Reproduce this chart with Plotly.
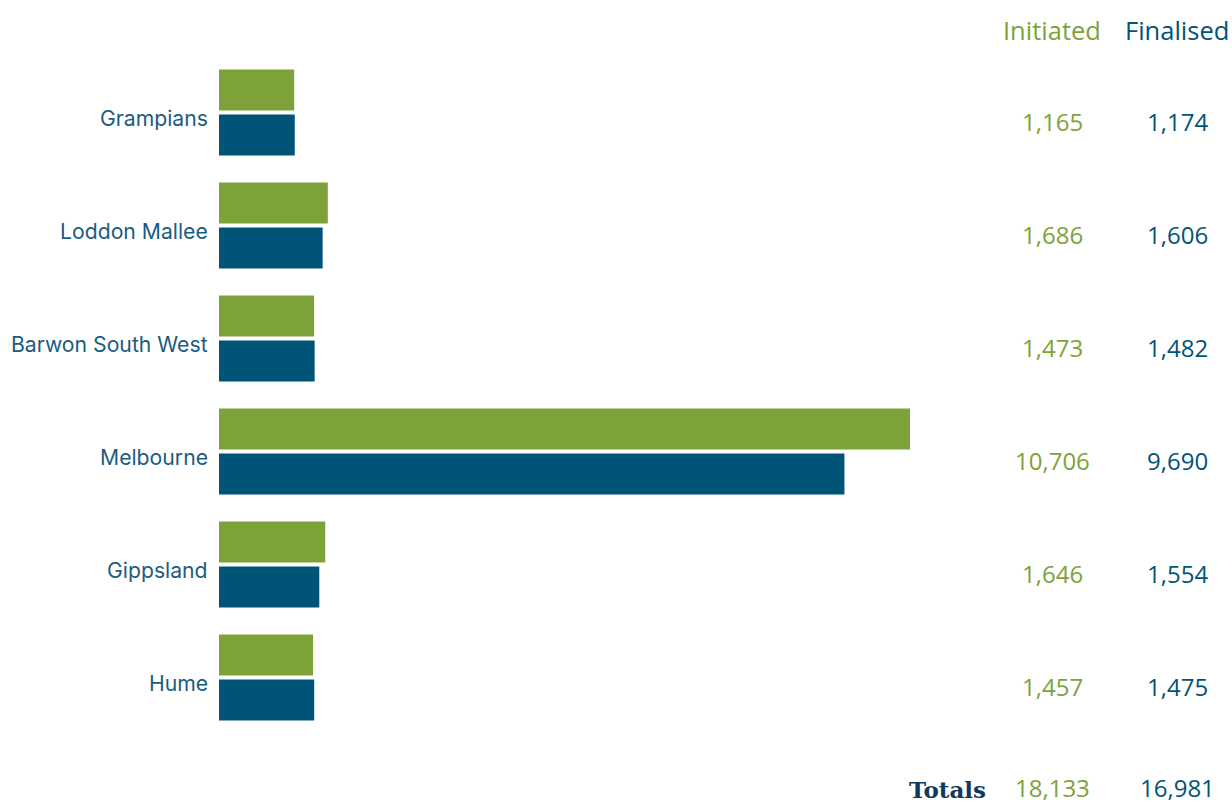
import plotly.graph_objects as go

regions = ["Grampians", "Loddon Mallee", "Barwon South West", "Melbourne", "Gippsland", "Hume"]
initiated = [1165, 1686, 1473, 10706, 1646, 1457]
finalised = [1174, 1606, 1482, 9690, 1554, 1475]
total_initiated = 18133
total_finalised = 16981
headers = ["Initiated", "Finalised"]

GREEN = "#7ea23a"
BLUE = "#005478"
LABEL = "#1b5c80"
NAVY = "#0e3a5e"

W, H = 1232, 803
ml, mr, mt, mb = 219, 0, 56, 68.5
plot_w = W - ml - mr
plot_h = H - mt - mb
x_max = plot_w / (691.0 / 10706.0)

def px_to_paper_x(px):
    return (px - ml) / plot_w

def px_to_paper_y(py):
    return (H - mb - py) / plot_h

fig = go.Figure()
fig.add_trace(go.Bar(y=regions, x=initiated, orientation="h", marker=dict(color=GREEN, line=dict(width=0)), name="Initiated"))
fig.add_trace(go.Bar(y=regions, x=finalised, orientation="h", marker=dict(color=BLUE, line=dict(width=0)), name="Finalised"))

annotations = []
col_x = [px_to_paper_x(1052), px_to_paper_x(1177)]
col_colors = [GREEN, BLUE]
for i, h in enumerate(headers):
    annotations.append(dict(text=h, xref="paper", yref="paper", x=col_x[i], y=px_to_paper_y(30),
                            xanchor="center", yanchor="middle", showarrow=False,
                            font=dict(family="Open Sans", size=25.5, color=col_colors[i])))
for r in regions:
    annotations.append(dict(text=r, xref="paper", yref="y", x=0, y=r, xshift=-9, yshift=-5,
                            xanchor="right", yanchor="middle", showarrow=False,
                            font=dict(family="Inter", size=21.2, color=LABEL)))
for r, a, b in zip(regions, initiated, finalised):
    for j, v in enumerate([a, b]):
        annotations.append(dict(text=f"{v:,}", xref="paper", yref="y", x=col_x[j], y=r,
                                xanchor="center", yanchor="middle", yshift=-9, showarrow=False,
                                font=dict(family="Open Sans", size=24, color=col_colors[j])))
annotations.append(dict(text="<b>Totals</b>", xref="paper", yref="paper", x=px_to_paper_x(988), y=px_to_paper_y(790),
                        xanchor="right", yanchor="middle", showarrow=False,
                        font=dict(family="DejaVu Serif", size=23, color=NAVY)))
for j, v in enumerate([total_initiated, total_finalised]):
    annotations.append(dict(text=f"{v:,}", xref="paper", yref="paper", x=col_x[j], y=px_to_paper_y(788),
                            xanchor="center", yanchor="middle", showarrow=False,
                            font=dict(family="Open Sans", size=24, color=col_colors[j])))

fig.update_layout(
    width=W, height=H,
    margin=dict(l=ml, r=mr, t=mt, b=mb, pad=0),
    paper_bgcolor="white", plot_bgcolor="white",
    barmode="group", bargap=0.204, bargroupgap=0.089,
    showlegend=False,
    annotations=annotations,
    xaxis=dict(range=[0, x_max], showgrid=False, zeroline=False, showticklabels=False, showline=False, fixedrange=True),
    yaxis=dict(range=[5.5, -0.5], showgrid=False, zeroline=False, showline=False,
               ticks="", showticklabels=False, fixedrange=True),
)

fig.write_html("out.html", config={"displayModeBar": False},
               post_script="document.body.style.margin='0';document.body.style.padding='0';")
